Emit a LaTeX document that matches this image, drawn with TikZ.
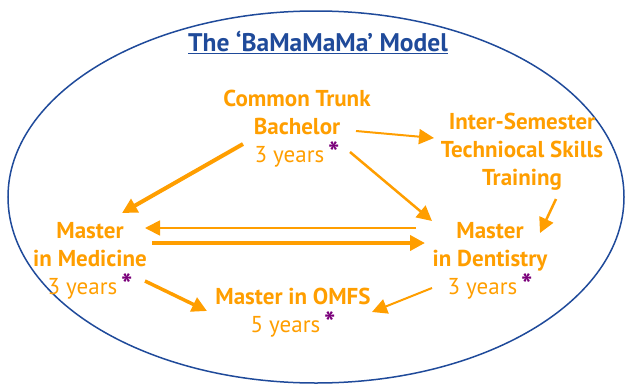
\documentclass[tikz,border=0pt]{standalone}
\usepackage{fontspec}
\setmainfont{PT Sans}
\usetikzlibrary{arrows.meta}
\definecolor{org}{HTML}{FF9E00}
\definecolor{blu}{HTML}{1F4A9A}
\definecolor{pur}{HTML}{7A007A}
\tikzset{
  lbl/.style={text=org, font=\fontsize{23}{28}\selectfont\bfseries, align=center, inner sep=0pt},
  arr/.style={draw=org, -{Triangle[length=15pt,width=15pt]}},
}
\newcommand{\myast}{\textcolor{pur}{\fontsize{30}{28}\selectfont\bfseries\raisebox{-1pt}{*}}}
\newcommand{\yrs}[1]{{\mdseries #1 years}\,\myast}
\begin{document}
\begin{tikzpicture}[x=1pt,y=-1pt]
\useasboundingbox (0,0) rectangle (629,383);
\draw[blu, line width=1.5pt] (316,197) ellipse [x radius=308, y radius=186];
\node[text=blu, font=\fontsize{25.5}{30}\selectfont\bfseries, inner sep=0pt] (title) at (318,42) {\underline{The ‘BaMaMaMa’ Model}};
\node[lbl] (bach) at (297,129) {Common Trunk\\Bachelor\\\yrs{3}};
\node[lbl] (inter) at (522,152) {Inter-Semester\\Techniocal Skills\\Training};
\node[lbl] (med) at (90,261) {Master\\in Medicine\\\yrs{3}};
\node[lbl] (dent) at (490,261) {Master\\in Dentistry\\\yrs{3}};
\node[lbl] (omfs) at (293,313) {Master in OMFS\\\yrs{5}};
\coordinate (b1) at (356,131); \coordinate (i1) at (434,138);
\coordinate (b2) at (243,144); \coordinate (m1) at (122,213);
\coordinate (b3) at (350,152); \coordinate (d1) at (432,221);
\coordinate (i2) at (556,199); \coordinate (d2) at (540,233);
\coordinate (d3) at (416,228); \coordinate (m2) at (145,228);
\coordinate (m3) at (152,243); \coordinate (d4) at (425,243);
\coordinate (m4) at (145,281); \coordinate (o1) at (207,311);
\coordinate (d5) at (432,288); \coordinate (o2) at (372,312);
\draw[arr, line width=2pt] (b1) -- (i1);
\draw[arr, line width=4pt] (b2) -- (m1);
\draw[arr, line width=2.5pt] (b3) -- (d1);
\draw[arr, line width=2.5pt] (i2) -- (d2);
\draw[arr, line width=1.8pt] (d3) -- (m2);
\draw[arr, line width=4pt] (m3) -- (d4);
\draw[arr, line width=3.5pt] (m4) -- (o1);
\draw[arr, line width=2pt] (d5) -- (o2);
\end{tikzpicture}
\end{document}
